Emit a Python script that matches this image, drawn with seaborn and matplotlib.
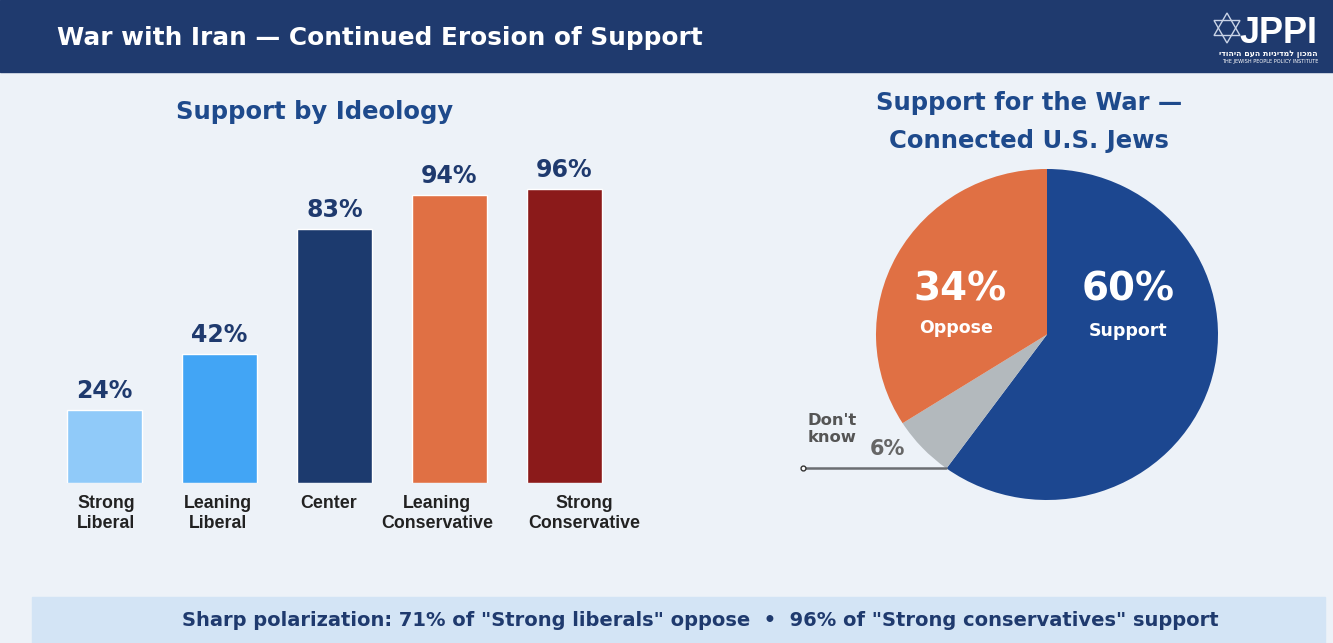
import matplotlib
matplotlib.use("Agg")
import matplotlib.pyplot as plt
from matplotlib.patches import Rectangle, Polygon
from matplotlib.transforms import ScaledTranslation
import numpy as np
import seaborn as sns

# Data
ideology = ["Strong\nLiberal", "Leaning\nLiberal", "Center", "Leaning\nConservative", "Strong\nConservative"]
support = [24, 42, 83, 94, 96]
bar_colors = ["#90caf9", "#42a5f5", "#1c3a6e", "#e07044", "#8b1a1a"]

pie_labels = ["Support", "Don't know", "Oppose"]
pie_values = [60, 6, 34]
pie_colors = ["#1c4790", "#b3b9bd", "#e07044"]

title = "War with Iran \u2014 Continued Erosion of Support"
footer = 'Sharp polarization: 71% of "Strong liberals" oppose  \u2022  96% of "Strong conservatives" support'

W, H = 1333, 643
BG = "#edf2f8"
NAVY = "#1f3a6e"
TITLE_BLUE = "#1e4a8c"

sns.set_theme(style="white")
plt.rcParams['font.family'] = ['DejaVu Sans']

fig = plt.figure(figsize=(W / 100, H / 100), dpi=100)
fig.patch.set_facecolor(BG)


def fx(x):
    return x / W


def fy(y):
    return 1 - y / H


# Header band
fig.add_artist(Rectangle((0, fy(72)), 1, 72 / H, transform=fig.transFigure,
                         color=NAVY, zorder=0))
fig.text(fx(57), fy(38), title, color="white", fontsize=17.8, fontweight="bold",
         va="center", ha="left")

# Logo
cx, cy, r = 1227, 28, 15
for a0 in (90, 270):
    ang = np.deg2rad([a0, a0 + 120, a0 + 240])
    pts = [(fx(cx + r * np.cos(a)), fy(cy - r * np.sin(a))) for a in ang]
    fig.add_artist(Polygon(pts, closed=True, fill=False, edgecolor="#c9d3e6",
                           lw=1.0, transform=fig.transFigure))
fig.text(fx(1318), fy(43), "JPPI", color="white", fontsize=26, fontweight="bold",
         family=["Liberation Sans", "DejaVu Sans"], va="baseline", ha="right")
fig.text(fx(1318), fy(54), "המכון למדיניות העם היהודי"[::-1], color="white",
         fontsize=5.6, fontweight="bold", va="center", ha="right")
fig.text(fx(1318), fy(61.5), "THE JEWISH PEOPLE POLICY INSTITUTE", color="white",
         fontsize=3.6, va="center", ha="right")

# Footer banner
fig.add_artist(Rectangle((fx(32), 0), fx(1325) - fx(32), 46 / H,
                         transform=fig.transFigure, color="#d3e4f5", zorder=0))
fig.text(fx(700), fy(621), footer, color=NAVY, fontsize=14, fontweight="bold",
         va="center", ha="center")

# Bar chart
ax = fig.add_axes([fx(47), fy(483), 575 / W, 306.25 / H])
ax.set_facecolor("none")
sns.barplot(x=ideology, y=support, hue=ideology, palette=bar_colors,
            legend=False, width=0.652, saturation=1, ax=ax)
ax.set_ylim(0, 100)
ax.set_xlim(-0.5, 4.5)
for c in ax.containers:
    ax.bar_label(c, fmt="%d%%", padding=5, color=NAVY, fontsize=17,
                 fontweight="bold")
ax.set_yticks([])
ax.set_ylabel("")
ax.set_xlabel("")
ax.tick_params(axis="x", length=0, pad=9)
label_shift = [1.5, -1.5, -5.5, -12.5, 19.5]
for lbl, dx in zip(ax.get_xticklabels(), label_shift):
    lbl.set_fontfamily(["Liberation Sans", "DejaVu Sans"])
    lbl.set_fontsize(12.8)
    lbl.set_fontweight("bold")
    lbl.set_color("#222222")
    lbl.set_va("top")
    lbl.set_linespacing(1.2)
    lbl.set_transform(lbl.get_transform() + ScaledTranslation(dx / 100, 0, fig.dpi_scale_trans))
sns.despine(ax=ax, left=True, bottom=True)
fig.text(fx(315), fy(112), "Support by Ideology", color=TITLE_BLUE, fontsize=17.5,
         fontweight="bold", ha="center", va="center")

# Pie chart
pcx, pcy, rx, ry = 1047, 334.5, 171, 165.5
pax = fig.add_axes([fx(pcx - 1.25 * rx), fy(pcy + 1.25 * ry), 2.5 * rx / W, 2.5 * ry / H])
wedges, _ = pax.pie(pie_values, colors=pie_colors, startangle=90, counterclock=False,
                    wedgeprops=dict(linewidth=0))
pax.set_aspect("auto")
pax.set_xlim(-1.25, 1.25)
pax.set_ylim(-1.25, 1.25)
pax.axis("off")

fig.text(fx(1029), fy(103), "Support for the War \u2014", color=TITLE_BLUE,
         fontsize=17.5, fontweight="bold", ha="center", va="center")
fig.text(fx(1029), fy(141), "Connected U.S. Jews", color=TITLE_BLUE,
         fontsize=17.5, fontweight="bold", ha="center", va="center")

fig.text(fx(1128), fy(290), f"{pie_values[0]}%", color="white", fontsize=28,
         fontweight="bold", ha="center", va="center")
fig.text(fx(1128), fy(331), pie_labels[0], color="white", fontsize=12.5,
         fontweight="bold", ha="center", va="center")
fig.text(fx(960), fy(290), f"{pie_values[2]}%", color="white", fontsize=28,
         fontweight="bold", ha="center", va="center")
fig.text(fx(956), fy(328), pie_labels[2], color="white", fontsize=12.5,
         fontweight="bold", ha="center", va="center")
fig.text(fx(808), fy(429), "Don't\nknow", color="#555555", fontsize=11.8,
         fontweight="bold", ha="left", va="center", linespacing=1.2)
fig.text(fx(887), fy(449), f"{pie_values[1]}%", color="#666666", fontsize=15,
         fontweight="bold", ha="center", va="center")

# Leader line to the Support / Don't know boundary
edge = np.deg2rad(90 - pie_values[0] / 100 * 360)
ex, ey = np.cos(edge), np.sin(edge)
sx = (803 - pcx) / rx
pax.plot([sx, ex], [ey, ey], color="#6b6e72", lw=1.8, clip_on=False)
pax.plot([sx], [ey], marker="o", ms=3.5, mfc="white", mec="#333333", mew=1,
         clip_on=False)

fig.savefig("out.png", dpi=100, facecolor=fig.get_facecolor())
